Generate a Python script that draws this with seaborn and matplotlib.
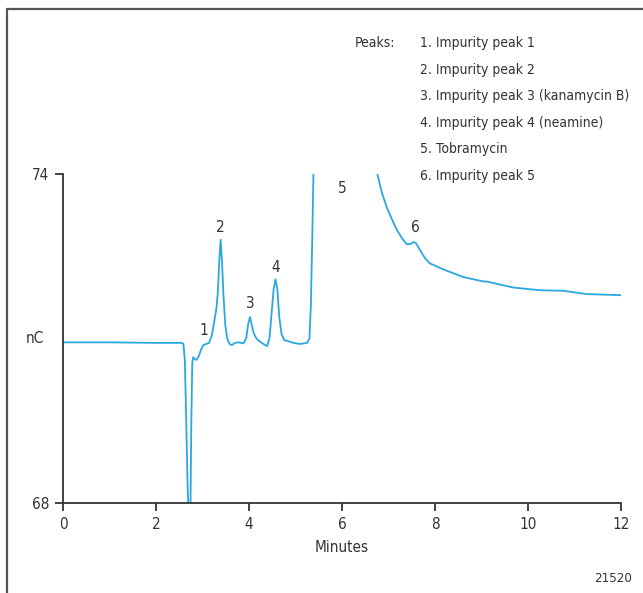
import matplotlib
matplotlib.use("Agg")
import matplotlib.pyplot as plt
from matplotlib.lines import Line2D
import seaborn as sns
import pandas as pd

# ---- data ----
minutes = [0.0, 1.0, 2.0, 2.55, 2.59, 2.62, 2.65, 2.68, 2.71, 2.74, 2.76, 2.78, 2.80, 2.84,
           2.87, 2.92, 2.97, 3.02, 3.08, 3.14, 3.20, 3.26, 3.30, 3.33, 3.36, 3.39, 3.42,
           3.45, 3.49, 3.53, 3.58, 3.63, 3.70, 3.78, 3.88, 3.94, 3.98, 4.02, 4.06, 4.10,
           4.16, 4.24, 4.33, 4.39, 4.44, 4.49, 4.53, 4.57, 4.61, 4.65, 4.70, 4.76, 4.85,
           4.95, 5.10, 5.25, 5.30, 5.33, 5.36, 5.39, 5.45, 6.0, 6.6, 6.76, 6.86, 6.96,
           7.07, 7.18, 7.29, 7.39, 7.47, 7.54, 7.59, 7.68, 7.78, 7.89, 8.18, 8.61, 9.04,
           9.11, 9.68, 10.26, 10.76, 11.26, 12.0]
signal_nc = [70.93, 70.93, 70.92, 70.92, 70.90, 70.6, 69.5, 68.3, 67.6, 67.8, 69.5, 70.55,
             70.66, 70.62, 70.61, 70.68, 70.80, 70.88, 70.90, 70.92, 71.05, 71.35, 71.55,
             71.85, 72.40, 72.80, 72.40, 71.80, 71.25, 71.00, 70.90, 70.88, 70.92, 70.93,
             70.91, 71.00, 71.25, 71.39, 71.25, 71.10, 71.00, 70.94, 70.89, 70.86, 71.00,
             71.50, 71.90, 72.08, 71.90, 71.40, 71.08, 70.97, 70.95, 70.92, 70.90, 70.92,
             71.0, 71.6, 72.8, 74.2, 77.0, 82.0, 77.0, 74.0, 73.65, 73.40, 73.18, 72.98,
             72.83, 72.72, 72.72, 72.76, 72.74, 72.61, 72.47, 72.37, 72.26, 72.12, 72.04,
             72.04, 71.93, 71.88, 71.87, 71.81, 71.79]

peak_labels = ["1", "2", "3", "4", "5", "6"]
peak_label_x = [3.02, 3.39, 4.02, 4.57, 6.0, 7.57]
peak_label_y = [71.0, 72.88, 71.5, 72.15, 73.6, 72.88]

legend_entries = ["1. Impurity peak 1", "2. Impurity peak 2",
                  "3. Impurity peak 3 (kanamycin B)", "4. Impurity peak 4 (neamine)",
                  "5. Tobramycin", "6. Impurity peak 5"]
x_ticks = [0, 2, 4, 6, 8, 10, 12]
y_ticks = [68, 74]

sns.set_style("ticks")
plt.rcParams["font.family"] = ["DejaVu Sans"]
plt.rcParams["font.stretch"] = "condensed"

ink = "#333333"
blue = "#2AA8E0"
fs = 11
fs_leg = 10

fig = plt.figure(figsize=(6.43, 5.93), dpi=100)
ax = fig.add_axes([63 / 643, 1 - 503 / 593, (621 - 63) / 643, (503 - 174) / 593])

df = pd.DataFrame({"Minutes": minutes, "nC": signal_nc})
sns.lineplot(data=df, x="Minutes", y="nC", ax=ax, color=blue, linewidth=1.3,
             estimator=None, sort=False)

ax.set_xlim(0, 12)
ax.set_ylim(68, 74)
ax.set_xticks(x_ticks)
ax.set_xticklabels([str(t) for t in x_ticks])
ax.set_yticks(y_ticks)
ax.set_yticklabels([str(t) for t in y_ticks])
for s in ["top", "right"]:
    ax.spines[s].set_visible(False)
for s in ["left", "bottom"]:
    ax.spines[s].set_color(ink)
    ax.spines[s].set_linewidth(1.3)
ax.tick_params(axis="both", direction="out", length=6, width=1.3, color=ink,
               labelcolor=ink, labelsize=fs, pad=4)
ax.set_xlabel("Minutes", fontsize=fs, color=ink, labelpad=6)
ax.set_ylabel("nC", fontsize=fs, color=ink, rotation=0, va="center")
ax.yaxis.set_label_coords(-0.05, 0.5)

for lab, x, y in zip(peak_labels, peak_label_x, peak_label_y):
    ax.text(x, y, lab, ha="center", va="bottom", fontsize=fs, color=ink)

# legend text block
fig.text(355 / 643, 1 - 43 / 593, "Peaks:", fontsize=fs_leg, color=ink, va="center", ha="left")
for i, e in enumerate(legend_entries):
    fig.text(420 / 643, 1 - (43 + i * 26.6) / 593, e, fontsize=fs_leg, color=ink,
             va="center", ha="left")

fig.text(632 / 643, 1 - 578 / 593, "21520", fontsize=9.5, color=ink, ha="right", va="center")

# frame border
fig.add_artist(Line2D([7 / 643, 1.0], [1 - 9 / 593, 1 - 9 / 593], color="#555555", linewidth=1.6))
fig.add_artist(Line2D([7 / 643, 7 / 643], [0.0, 1 - 9 / 593], color="#555555", linewidth=1.6))

fig.savefig("out.png", dpi=100)
